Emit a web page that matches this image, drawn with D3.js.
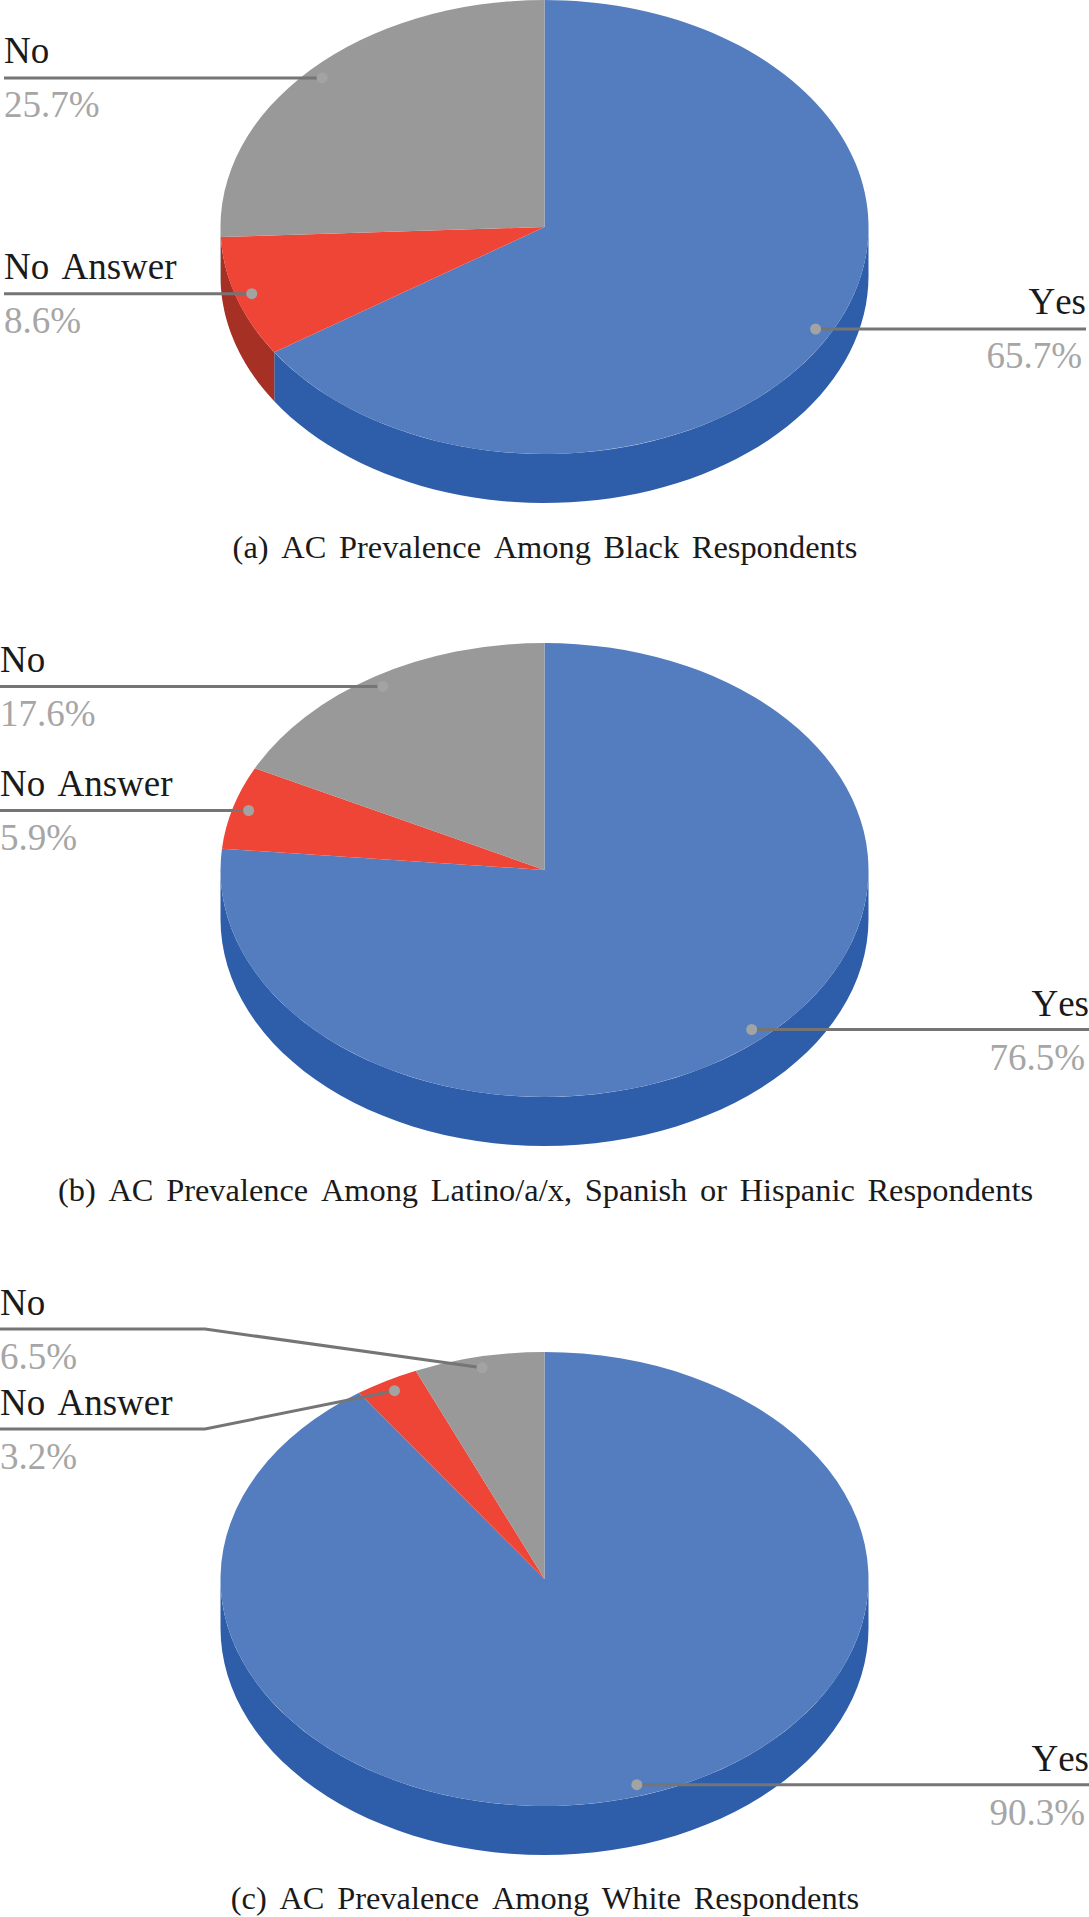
<!DOCTYPE html>
<html>
<head>
<meta charset="utf-8">
<script src="https://cdn.jsdelivr.net/npm/d3@7"></script>
<style>
html, body { margin: 0; padding: 0; background: #fff; }
svg { display: block; }
text { font-family: "Liberation Serif", serif; font-kerning: none; }
</style>
</head>
<body>
<svg id="chart" width="1089" height="1917"></svg>
<script>
var categories = ["Yes", "No Answer", "No"];
var blackValues = [65.7, 8.6, 25.7];
var latinoValues = [76.5, 5.9, 17.6];
var whiteValues = [90.3, 3.2, 6.5];
var titles = [
  "(a) AC Prevalence Among Black Respondents",
  "(b) AC Prevalence Among Latino/a/x, Spanish or Hispanic Respondents",
  "(c) AC Prevalence Among White Respondents"
];

var topColor = d3.scaleOrdinal().domain(categories).range(["#547dbf", "#ee4537", "#999999"]);
var sideColor = d3.scaleOrdinal().domain(categories).range(["#2e5eaa", "#a73024", "#6b6b6b"]);

var rx = 324, ry = 227, depth = 49, dotRadius = 0.95;

// layout of each panel: pie centre, label margins, title baseline, optional elbow
var panels = [
  { values: blackValues, cx: 544.5, cy: 227, left: 4, right: 1086, labelShift: 0, titleY: 558, titleX: 545 },
  { values: latinoValues, cx: 544.5, cy: 870, left: 0, right: 1089, labelShift: 1, titleY: 1200.5, titleX: 545.5 },
  { values: whiteValues, cx: 544.5, cy: 1579, left: 0, right: 1089, labelShift: 1, titleY: 1909, titleX: 545,
    elbowX: 205, elbowY: { "No": 1329, "No Answer": 1429 } }
];

var svg = d3.select("#chart");
var pie = d3.pie().sort(null).value(function(d) { return d.value; });
var arc = d3.arc().innerRadius(0).outerRadius(rx);

// clockwise from 12 o'clock, same convention as d3.pie
var px = function(p, a, k) { return p.cx + Math.sin(a) * rx * k; };
var py = function(p, a, k) { return p.cy - Math.cos(a) * ry * k; };

var drawPanel = function(p, i) {
  var rows = categories.map(function(c, j) { return { name: c, value: p.values[j] }; });
  var slices = pie(rows);
  var g = svg.append("g");

  // side wall, only the front half of the ellipse is visible
  slices.forEach(function(s) {
    var a0 = Math.max(s.startAngle, Math.PI / 2);
    var a1 = Math.min(s.endAngle, Math.PI * 1.5);
    if (a1 <= a0) return;
    var angles = d3.range(0, 61).map(function(n) { return a0 + (a1 - a0) * n / 60; });
    var wall = d3.area()
      .x(function(a) { return px(p, a, 1); })
      .y0(function(a) { return py(p, a, 1); })
      .y1(function(a) { return py(p, a, 1) + depth; });
    g.append("path")
      .attr("d", wall(angles))
      .attr("fill", sideColor(s.data.name));
  });

  g.append("g")
    .attr("transform", "translate(" + p.cx + "," + p.cy + ") scale(1," + (ry / rx) + ")")
    .selectAll("path")
    .data(slices)
    .enter()
    .append("path")
    .attr("d", arc)
    .attr("fill", function(d) { return topColor(d.data.name); });

  // leader lines, dots and labels
  slices.forEach(function(s) {
    var mid = (s.startAngle + s.endAngle) / 2;
    var dx = px(p, mid, dotRadius), dy = py(p, mid, dotRadius);
    var isRight = Math.sin(mid) > 0;
    var edge = isRight ? p.right : p.left;
    var lineY = (p.elbowY && p.elbowY[s.data.name]) || dy;
    var pts = [[edge, lineY]];
    if (p.elbowY && p.elbowY[s.data.name]) pts.push([p.elbowX, lineY]);
    pts.push([dx, dy]);

    g.append("path")
      .attr("d", d3.line()(pts))
      .attr("fill", "none")
      .attr("stroke", "#757575")
      .attr("stroke-width", 3);
    g.append("circle")
      .attr("cx", dx)
      .attr("cy", dy)
      .attr("r", 5.5)
      .attr("fill", "#a3a3a3");

    var anchor = isRight ? "end" : "start";
    g.append("text")
      .attr("x", edge)
      .attr("y", lineY - 15 + p.labelShift)
      .attr("text-anchor", anchor)
      .attr("font-size", 37)
      .attr("word-spacing", 3)
      .attr("fill", "#1a1a1a")
      .text(s.data.name);
    g.append("text")
      .attr("x", isRight ? edge - 4 : edge)
      .attr("y", lineY + 39 + p.labelShift)
      .attr("text-anchor", anchor)
      .attr("font-size", 37)
      .attr("fill", "#a6a6a6")
      .text(s.data.value.toFixed(1) + "%");
  });

  g.append("text")
    .attr("x", p.titleX)
    .attr("y", p.titleY)
    .attr("text-anchor", "middle")
    .attr("font-size", 32.4)
    .attr("word-spacing", 4.6)
    .attr("fill", "#1a1a1a")
    .text(titles[i]);
};

panels.forEach(drawPanel);
</script>
</body>
</html>
